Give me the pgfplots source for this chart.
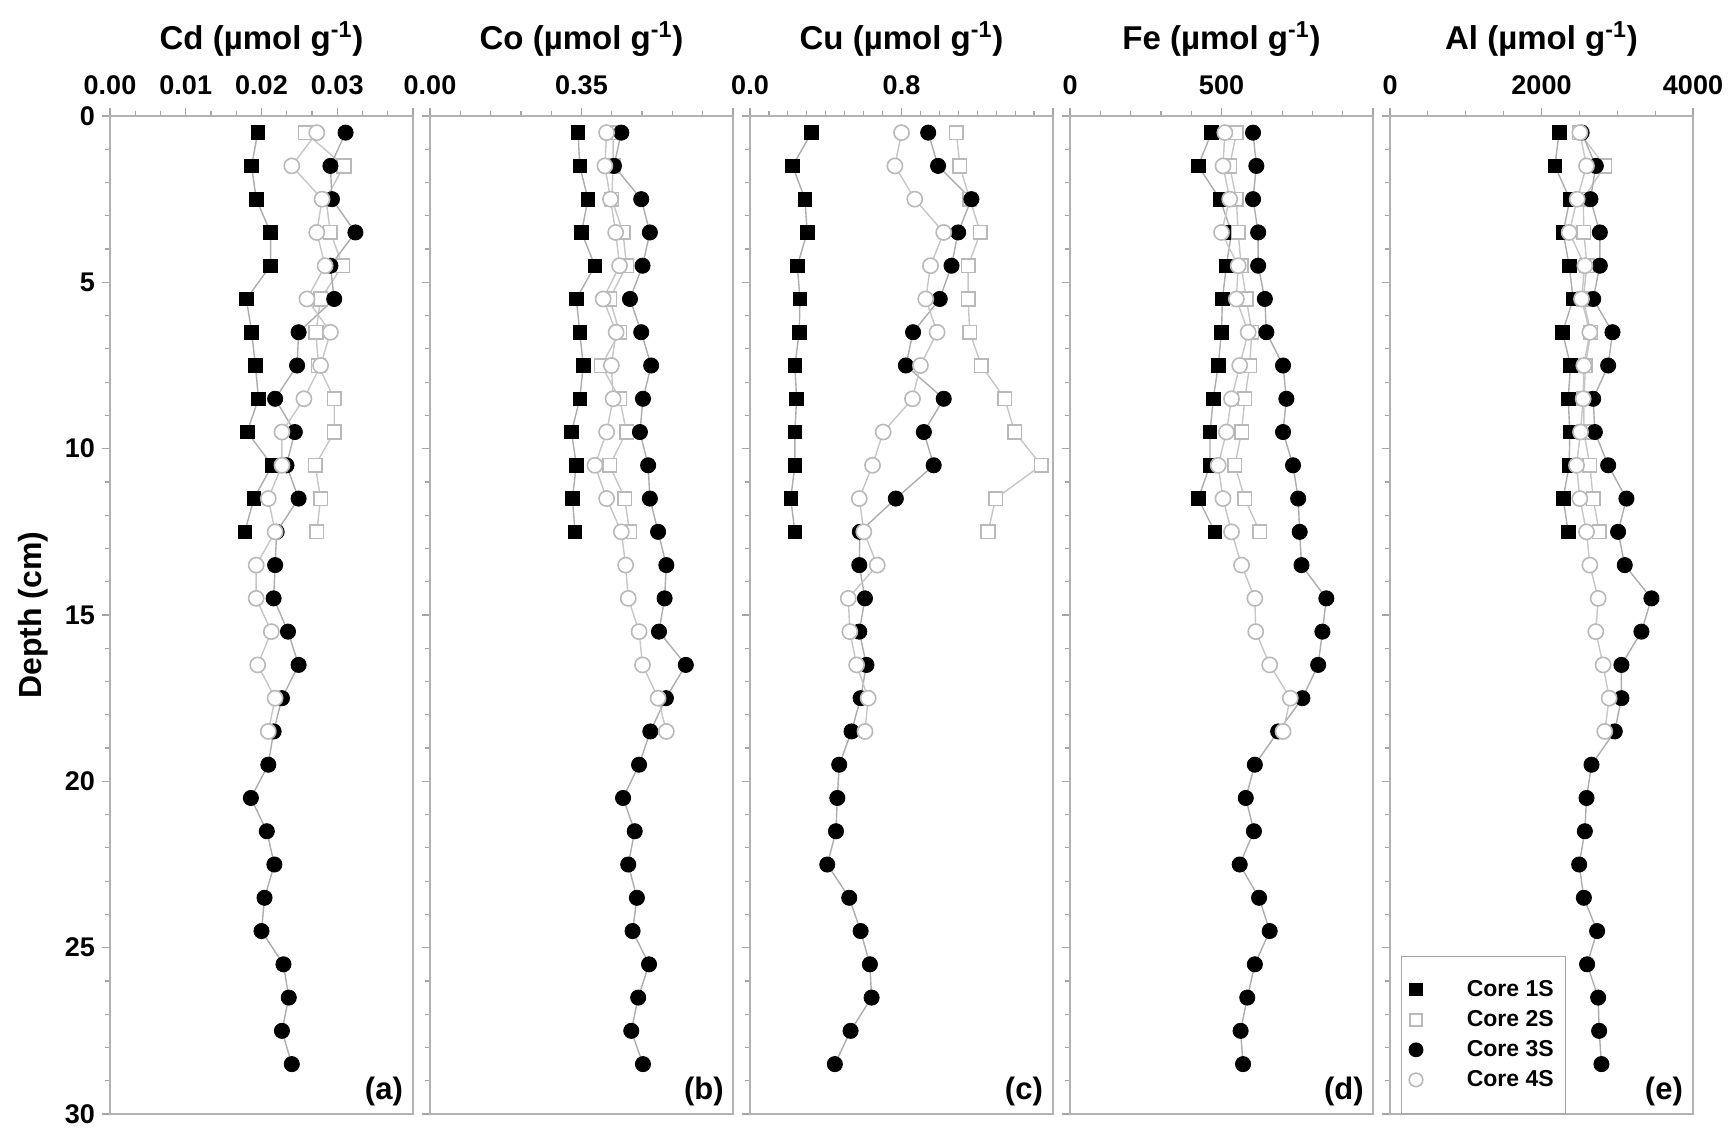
\documentclass[border=0pt]{standalone}
\usepackage{fontspec}
\setmainfont{Liberation Sans}
\usepackage{pgfplots}
\usepackage{pgfplotstable}
\pgfplotsset{compat=1.18}

\pgfplotstableread{
depth cd co cu fe al
0.5 0.0195 0.342 0.325 467 2233
1.5 0.0187 0.346 0.225 423 2176
2.5 0.0193 0.365 0.290 495 2374
3.5 0.0212 0.350 0.302 533 2286
4.5 0.0212 0.381 0.250 516 2365
5.5 0.0180 0.338 0.264 503 2418
6.5 0.0187 0.346 0.260 500 2277
7.5 0.0192 0.354 0.237 489 2383
8.5 0.0196 0.346 0.246 473 2352
9.5 0.0181 0.327 0.237 462 2374
10.5 0.0214 0.338 0.237 462 2365
11.5 0.0190 0.329 0.215 423 2286
12.5 0.0178 0.335 0.237 478 2352
}\coreA

\pgfplotstableread{
depth cd co cu fe al
0.5 0.0258 0.423 1.090 549 2500
1.5 0.0309 0.423 1.108 527 2835
2.5 0.0285 0.420 1.160 549 2550
3.5 0.0291 0.446 1.217 555 2559
4.5 0.0307 0.454 1.152 565 2600
5.5 0.0278 0.415 1.152 582 2550
6.5 0.0272 0.438 1.160 600 2650
7.5 0.0275 0.396 1.222 593 2580
8.5 0.0296 0.438 1.345 577 2560
9.5 0.0296 0.454 1.398 566 2560
10.5 0.0271 0.415 1.538 544 2638
11.5 0.0278 0.450 1.297 577 2682
12.5 0.0273 0.461 1.257 626 2761
}\coreB

\pgfplotstableread{
depth cd co cu fe al
0.5 0.0311 0.442 0.941 604 2530
1.5 0.0291 0.425 0.993 615 2717
2.5 0.0293 0.488 1.169 604 2646
3.5 0.0324 0.508 1.099 621 2770
4.5 0.0291 0.491 1.064 621 2770
5.5 0.0296 0.462 1.002 643 2682
6.5 0.0249 0.488 0.861 648 2937
7.5 0.0247 0.511 0.823 703 2880
8.5 0.0218 0.492 1.023 714 2682
9.5 0.0244 0.485 0.918 703 2704
10.5 0.0233 0.504 0.970 736 2880
11.5 0.0249 0.508 0.770 753 3121
12.5 0.0220 0.527 0.580 758 3011
13.5 0.0218 0.546 0.577 764 3099
14.5 0.0216 0.542 0.607 846 3451
15.5 0.0235 0.529 0.577 833 3319
16.5 0.0249 0.591 0.615 819 3055
17.5 0.0227 0.545 0.584 767 3055
18.5 0.0216 0.509 0.536 687 2967
19.5 0.0209 0.483 0.471 610 2660
20.5 0.0186 0.446 0.461 580 2594
21.5 0.0207 0.473 0.454 607 2572
22.5 0.0217 0.458 0.408 560 2497
23.5 0.0204 0.478 0.524 624 2559
24.5 0.0200 0.468 0.584 659 2734
25.5 0.0229 0.506 0.633 610 2602
26.5 0.0236 0.481 0.642 585 2748
27.5 0.0227 0.465 0.531 563 2761
28.5 0.0240 0.492 0.448 571 2791
}\coreC

\pgfplotstableread{
depth cd co cu fe al
0.5 0.0273 0.408 0.800 511 2506
1.5 0.0240 0.404 0.765 505 2594
2.5 0.0280 0.417 0.870 527 2471
3.5 0.0273 0.429 1.023 500 2365
4.5 0.0284 0.438 0.953 555 2572
5.5 0.0260 0.400 0.928 549 2528
6.5 0.0291 0.430 0.988 588 2638
7.5 0.0278 0.419 0.900 560 2559
8.5 0.0256 0.423 0.858 533 2550
9.5 0.0227 0.408 0.703 516 2515
10.5 0.0227 0.381 0.647 489 2462
11.5 0.0209 0.408 0.577 505 2506
12.5 0.0218 0.442 0.601 533 2594
13.5 0.0193 0.452 0.672 566 2638
14.5 0.0193 0.458 0.519 610 2748
15.5 0.0213 0.483 0.527 613 2717
16.5 0.0195 0.491 0.563 659 2813
17.5 0.0218 0.527 0.624 727 2893
18.5 0.0209 0.546 0.607 703 2835
}\coreD

\pgfplotsset{
  cA/.style={color=gray!65, line width=0.7pt, mark=square*, mark size=3.4pt,
    mark options={solid, fill=black, draw=black, line width=0.4pt}},
  cB/.style={color=gray!45, line width=0.7pt, mark=square*, mark size=3.4pt,
    mark options={solid, fill=white, draw=gray!55, line width=0.8pt}},
  cC/.style={color=gray!65, line width=0.7pt, mark=*, mark size=3.8pt,
    mark options={solid, fill=black, draw=black, line width=0.4pt}},
  cD/.style={color=gray!45, line width=0.7pt, mark=*, mark size=3.8pt,
    mark options={solid, fill=white, draw=gray!55, line width=0.8pt}},
  panel/.style={
    at={(#1,8pt)}, anchor=south west,
    scale only axis, width=151.5pt, height=499pt,
    y dir=reverse, ymin=0, ymax=30, ytick={0,5,10,15,20,25,30}, minor y tick num=4,
    yticklabels={},
    xmin=0, scaled x ticks=false,
    xtick pos=upper, xticklabel pos=upper, ytick pos=left,
    axis line style={gray!60, line width=0.8pt},
    tick style={gray!70, line width=0.6pt}, tick align=outside,
    major tick length=4pt, minor tick length=2.5pt,
    ticklabel style={font=\fontsize{13.5}{14}\selectfont\bfseries},
    xticklabel style={yshift=3pt},
    clip=false,
  },
}

\newcommand{\plotall}[1]{%
  \addplot[cA] table[x=#1, y=depth] {\coreA};
  \addplot[cB] table[x=#1, y=depth] {\coreB};
  \addplot[cC] table[x=#1, y=depth] {\coreC};
  \addplot[cD] table[x=#1, y=depth] {\coreD};
}
\newcommand{\plabel}[1]{\node[font=\fontsize{15.5}{16}\selectfont\bfseries] at (axis description cs:0.904,0.023) {#1};}
\newcommand{\ptitle}[1]{\node[font=\fontsize{16.5}{18}\selectfont\bfseries] at (axis description cs:0.5,1.077) {#1 (µmol g\textsuperscript{-1})};}

\begin{document}
\begin{tikzpicture}
\path[use as bounding box] (0,0) rectangle (864pt,565pt);

\begin{axis}[panel=55pt, xmax=0.04, xtick={0,0.01,0.02,0.03,0.04},
  xticklabels={0.00,0.01,0.02,0.03,{}}, minor x tick num=2,
  yticklabels={0,5,10,15,20,25,30},
  ylabel={Depth (cm)},
  ylabel style={at={(axis description cs:-0.254,0.5)}, anchor=center, font=\fontsize{16}{18}\selectfont\bfseries}]
\plotall{cd}
\plabel{(a)}
\ptitle{Cd}
\end{axis}

\begin{axis}[panel=215pt, xmax=0.7, xtick={0,0.35,0.7},
  xticklabels={0.00,0.35,{}}, minor x tick num=4]
\plotall{co}
\plabel{(b)}
\ptitle{Co}
\end{axis}

\begin{axis}[panel=375pt, xmax=1.6, xtick={0,0.8,1.6},
  xticklabels={0.0,0.8,{}}, minor x tick num=7]
\plotall{cu}
\plabel{(c)}
\ptitle{Cu}
\end{axis}

\begin{axis}[panel=535pt, xmax=1000, xtick={0,500,1000},
  xticklabels={0,500,{}}, minor x tick num=4]
\plotall{fe}
\plabel{(d)}
\ptitle{Fe}
\end{axis}

\begin{axis}[panel=695pt, xmax=4000, xtick={0,2000,4000},
  xticklabels={0,2000,4000}, minor x tick num=3,
  legend cell align=left,
  legend style={at={(axis description cs:0.035,0.0)}, anchor=south west,
    draw=gray!70, line width=0.6pt, font=\fontsize{11.5}{12}\selectfont\bfseries,
    row sep=1.5pt, inner xsep=4pt, inner ysep=10pt,
    /tikz/every odd column/.append style={column sep=20pt}}]
\addlegendimage{only marks, mark=square*, mark size=3pt, mark options={fill=black, draw=black}}
\addlegendentry{Core 1S\hspace{9pt}}
\addlegendimage{only marks, mark=square*, mark size=3pt, mark options={fill=white, draw=gray!55, line width=0.8pt}}
\addlegendentry{Core 2S\hspace{9pt}}
\addlegendimage{only marks, mark=*, mark size=3.4pt, mark options={fill=black, draw=black}}
\addlegendentry{Core 3S\hspace{9pt}}
\addlegendimage{only marks, mark=*, mark size=3.4pt, mark options={fill=white, draw=gray!55, line width=0.8pt}}
\addlegendentry{Core 4S\hspace{9pt}}
\addplot[cA, forget plot] table[x=al, y=depth] {\coreA};
\addplot[cB, forget plot] table[x=al, y=depth] {\coreB};
\addplot[cC, forget plot] table[x=al, y=depth] {\coreC};
\addplot[cD, forget plot] table[x=al, y=depth] {\coreD};
\plabel{(e)}
\ptitle{Al}
\end{axis}
\end{tikzpicture}
\end{document}
